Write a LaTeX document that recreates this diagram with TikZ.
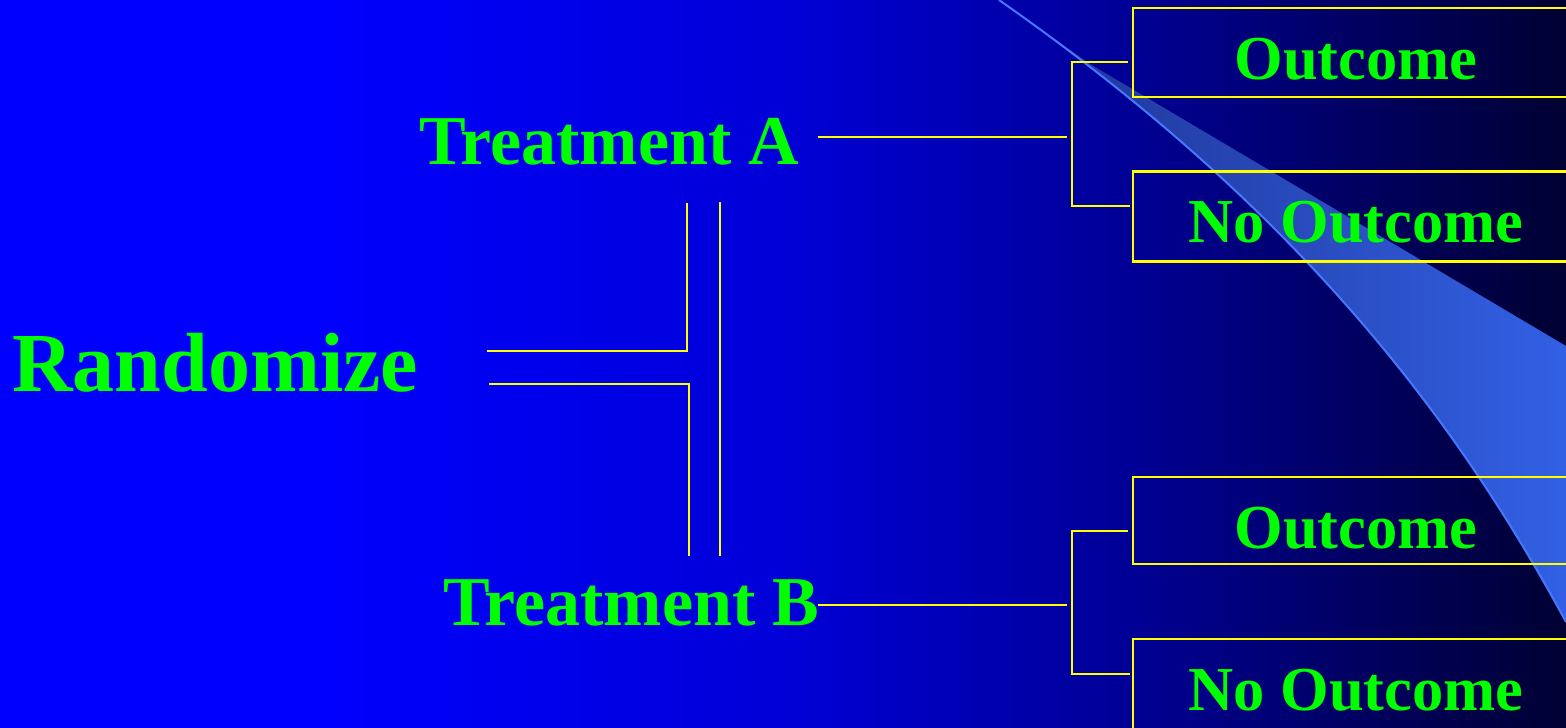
\documentclass[tikz,border=0pt]{standalone}
\usepackage{fontspec}
\setmainfont{Liberation Serif}
\definecolor{tgreen}{RGB}{0,255,0}
\definecolor{lyellow}{RGB}{255,255,0}
\definecolor{swline}{RGB}{70,120,255}
\definecolor{swA}{RGB}{30,50,145}
\definecolor{swB}{RGB}{50,96,228}
\definecolor{bgA}{RGB}{0,0,255}
\definecolor{bgB}{RGB}{0,0,215}
\definecolor{bgC}{RGB}{0,0,150}
\definecolor{bgD}{RGB}{0,0,50}
\pgfdeclarehorizontalshading{bgshade}{100bp}{color(0bp)=(bgA); color(25bp)=(bgA); color(35bp)=(bgA); color(50bp)=(bgB); color(61bp)=(bgC); color(75bp)=(bgD); color(100bp)=(bgD)}
\tikzset{
  conn/.style={draw=lyellow, line width=2pt, line join=miter},
  obox/.style={draw=lyellow, line width=2.8pt, minimum width=447pt, inner sep=0pt},
  big/.style={text=tgreen, inner sep=0pt, font=\fontsize{84}{90}\selectfont\bfseries},
  mid/.style={text=tgreen, inner sep=0pt, font=\fontsize{70}{76}\selectfont\bfseries},
  small/.style={text=tgreen, inner sep=0pt, font=\fontsize{62.5}{68}\selectfont\bfseries}
}
\begin{document}
\begin{tikzpicture}[x=1pt,y=-1pt]
\useasboundingbox (0,0) rectangle (1566,728);
\clip (0,0) rectangle (1566,728);
% background
\shade[shading=bgshade] (0,0) rectangle (1566,728);
% swoosh
\shade[left color=swA, right color=swB] (999,0) .. controls (1295,207) and (1454,415) .. (1566,622)
  -- (1566,346) -- (1090,64) -- cycle;
\draw[swline, line width=2pt] (999,0) .. controls (1295,207) and (1454,415) .. (1566,622);
% texts
\node[big, anchor=base west] (rand) at (12,391) {Randomize};
\node[mid, anchor=base west] (tA) at (419,164) {Treatment A};
\node[mid, anchor=base west] (tB) at (443,625) {Treatment B};
% boxes
\node[obox, minimum height=89pt] (o1) at (1356.5,52.5) {};
\node[obox, minimum height=90pt] (n1) at (1356.5,216.5) {};
\node[obox, minimum height=87pt] (o2) at (1356.5,520.5) {};
\node[obox, minimum height=100pt] (n2) at (1356.5,689) {};
\node[small, anchor=base] (o1t) at (1356,79) {Outcome};
\node[small, anchor=base] (n1t) at (1356,242) {No Outcome};
\node[small, anchor=base] (o2t) at (1356,548) {Outcome};
\node[small, anchor=base] (n2t) at (1356,710) {No Outcome};
% coordinates
\coordinate (rU1) at (487,351); \coordinate (rU2) at (687,351); \coordinate (rU3) at (687,203);
\coordinate (rL1) at (489,384); \coordinate (rL2) at (689,384); \coordinate (rL3) at (689,556);
\coordinate (vT) at (720,202); \coordinate (vB) at (720,556);
\coordinate (aS) at (818,137); \coordinate (aE) at (1067,137);
\coordinate (bS) at (818,605); \coordinate (bE) at (1067,605);
\coordinate (a1) at (1128,62); \coordinate (a2) at (1072,62); \coordinate (a3) at (1072,206); \coordinate (a4) at (1130,206);
\coordinate (b1) at (1128,531); \coordinate (b2) at (1072,531); \coordinate (b3) at (1072,674); \coordinate (b4) at (1130,674);
% connectors
\draw[conn] (rU1) -- (rU2) -- (rU3);
\draw[conn] (rL1) -- (rL2) -- (rL3);
\draw[conn] (vT) -- (vB);
\draw[conn] (aS) -- (aE);
\draw[conn] (bS) -- (bE);
\draw[conn] (a1) -- (a2) -- (a3) -- (a4);
\draw[conn] (b1) -- (b2) -- (b3) -- (b4);
\end{tikzpicture}
\end{document}
